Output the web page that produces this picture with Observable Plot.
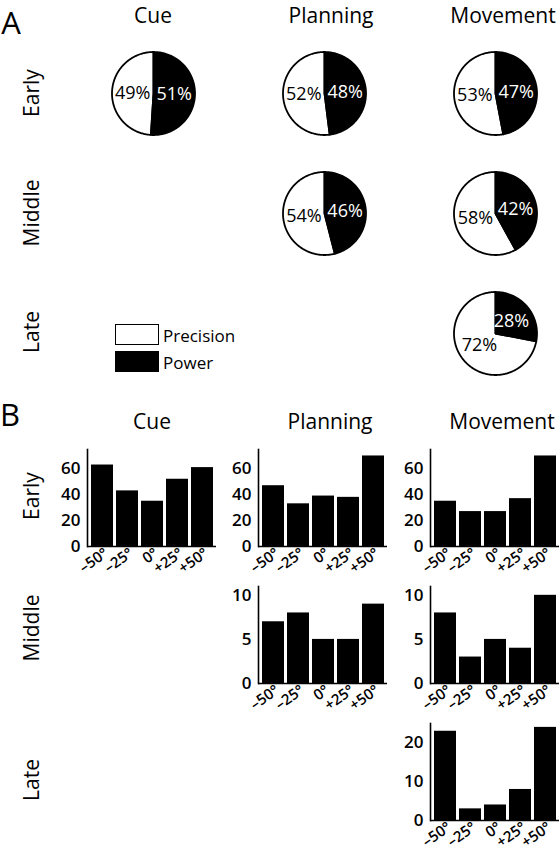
<!DOCTYPE html>
<html><head><meta charset="utf-8">
<script src="https://cdn.jsdelivr.net/npm/d3@7"></script>
<script src="https://cdn.jsdelivr.net/npm/@observablehq/plot@0.6"></script>
<style>
body{margin:0;background:#fff;}
#fig{position:relative;width:560px;height:852px;font-family:"Open Sans",sans-serif;font-weight:400;color:#000;overflow:hidden;background:#fff}
#fig svg{position:absolute;overflow:visible}
.t{position:absolute;white-space:nowrap;line-height:1;transform:translate(-50%,-50%)}
.r{transform:translate(-50%,-50%) rotate(-90deg)}
.box{position:absolute;box-sizing:border-box;border:1.5px solid #000}
</style></head><body><div id="fig"></div>
<script>
// ---------- data ----------
const periods = ["Cue", "Planning", "Movement"];
const phases = ["Early", "Middle", "Late"];
// Panel A: % of neurons, rows = Early, Middle, Late (null = no pie)
const powerCue = [51, null, null];
const precisionCue = [49, null, null];
const powerPlanning = [48, 46, null];
const precisionPlanning = [52, 54, null];
const powerMovement = [47, 42, 28];
const precisionMovement = [53, 58, 72];
const legendLabels = ["Precision", "Power"];
// Panel B: counts per target direction
const targets = ["\u201350\u00b0", "\u201325\u00b0", "0\u00b0", "+25\u00b0", "+50\u00b0"];
const countsCueEarly = [63, 43, 35, 52, 61];
const countsPlanningEarly = [47, 33, 39, 38, 70];
const countsPlanningMiddle = [7, 8, 5, 5, 9];
const countsMovementEarly = [35, 27, 27, 37, 70];
const countsMovementMiddle = [8, 3, 5, 4, 10];
const countsMovementLate = [23, 3, 4, 8, 24];
const yTicksEarly = [0, 20, 40, 60];
const yTicksMiddle = [0, 5, 10];
const yTicksLate = [0, 10, 20];

// ---------- helpers ----------
const FONT = '"Open Sans", sans-serif';
const fig = document.getElementById("fig");
function addText(txt, x, y, size, rotate, extra) {
  const d = document.createElement("div");
  d.className = "t" + (rotate ? " r" : "");
  d.textContent = txt;
  d.style.left = x + "px"; d.style.top = y + "px"; d.style.fontSize = size + "px";
  if (extra) Object.assign(d.style, extra);
  fig.appendChild(d);
}
function place(svg, left, top) {
  svg.style.left = left + "px"; svg.style.top = top + "px";
  fig.appendChild(svg);
}

// ---------- Panel A: pies ----------
const powerBy = [powerCue, powerPlanning, powerMovement];
const precisionBy = [precisionCue, precisionPlanning, precisionMovement];
const slicePts = [], sliceLabels = [];
periods.forEach((period, ci) => {
  phases.forEach((phase, ri) => {
    const pw = powerBy[ci][ri], pr = precisionBy[ci][ri];
    if (pw == null) return;
    const slices = [
      {type: "Precision", value: pr, a0: pw / 100 * 2 * Math.PI, a1: 2 * Math.PI},
      {type: "Power", value: pw, a0: 0, a1: pw / 100 * 2 * Math.PI}
    ];
    slices.forEach(s => {
      const id = period + phase + s.type;
      slicePts.push({id, type: s.type, period, phase, x: 0, y: 0});
      const n = Math.max(2, Math.ceil((s.a1 - s.a0) / (Math.PI / 180)));
      for (let k = 0; k <= n; k++) {
        const a = s.a0 + (s.a1 - s.a0) * k / n;
        slicePts.push({id, type: s.type, period, phase, x: Math.sin(a), y: Math.cos(a)});
      }
      const m = (s.a0 + s.a1) / 2;
      sliceLabels.push({type: s.type, period, phase, x: 0.5 * Math.sin(m), y: 0.45 * Math.cos(m), label: s.value + "%"});
    });
  });
});
const D = 1.2048;
const pieChart = Plot.plot({
  width: 560, height: 400,
  marginLeft: 103, marginRight: 14.3, marginTop: 43, marginBottom: 17,
  fx: {domain: periods, paddingInner: 0.4162, paddingOuter: 0, axis: null},
  fy: {domain: phases, paddingInner: 0.16667, paddingOuter: 0, axis: null},
  x: {domain: [-D, D], axis: null},
  y: {domain: [-D, D], axis: null},
  style: {fontFamily: FONT, background: "transparent"},
  marks: [
    Plot.line(slicePts.filter(d => d.type === "Precision"), {x: "x", y: "y", z: "id", fx: "period", fy: "phase", fill: "white", stroke: "black", strokeWidth: 1.8, curve: "linear-closed"}),
    Plot.line(slicePts.filter(d => d.type === "Power"), {x: "x", y: "y", z: "id", fx: "period", fy: "phase", fill: "black", stroke: "black", strokeWidth: 1.8, curve: "linear-closed"}),
    Plot.text(sliceLabels.filter(d => d.type === "Precision"), {x: "x", y: "y", text: "label", fx: "period", fy: "phase", fill: "black", fontSize: 18}),
    Plot.text(sliceLabels.filter(d => d.type === "Power"), {x: "x", y: "y", text: "label", fx: "period", fy: "phase", fill: "white", fontSize: 18})
  ]
});
place(pieChart, 0, 0);

// Panel A text
const titleX = [153, 331, 503];
addText("A", 11, 21.5, 31);
periods.forEach((p, i) => addText(p, titleX[i], 14.5, 21));
const rowYA = [93, 213, 332];
phases.forEach((p, i) => addText(p, 31, rowYA[i], 21, true));
// legend
const legFill = ["#fff", "#000"];
const legTop = [324, 351];
legendLabels.forEach((l, i) => {
  const b = document.createElement("div");
  b.className = "box";
  Object.assign(b.style, {left: "115px", top: legTop[i] + "px", width: "44px", height: "21px", background: legFill[i]});
  fig.appendChild(b);
  addText(l, 163, legTop[i] + 11, 17, false, {transform: "translate(0,-50%)"});
});

// ---------- Panel B: bars ----------
function bars(values, yMax, ticks, axisLeft, axisTop, plotH) {
  const mL = 30, mT = 5, mB = 40, mR = 1, w = 129;
  const chart = Plot.plot({
    width: mL + w + mR, height: mT + plotH + mB,
    marginLeft: mL, marginRight: mR, marginTop: mT, marginBottom: mB,
    x: {type: "band", domain: targets, paddingInner: 0.14, paddingOuter: 0.07, label: null},
    y: {domain: [0, yMax], label: null},
    style: {fontFamily: FONT, fontSize: "16px", fontWeight: 600, background: "transparent"},
    marks: [
      Plot.barY(targets.map((t, i) => ({t, v: values[i]})), {x: "t", y: "v", fill: "black"}),
      Plot.axisX({tickSize: 0, tickRotate: -35, tickPadding: 5, dx: 4, fontSize: 15, fontWeight: 600, label: null}),
      Plot.axisY({ticks, tickSize: 0, tickPadding: 7, fontSize: 17, fontWeight: 600, label: null}),
      Plot.ruleY([0], {stroke: "black", strokeWidth: 1.6}),
      Plot.frame({anchor: "left", stroke: "black", strokeWidth: 1.6})
    ]
  });
  place(chart, axisLeft - mL, axisTop - mT);
}
const colX = [87.3, 258.3, 430];
const rowTop = [449, 586, 722.7];
const plotH = 97;
bars(countsCueEarly, 75, yTicksEarly, colX[0], rowTop[0], plotH);
bars(countsPlanningEarly, 75, yTicksEarly, colX[1], rowTop[0], plotH);
bars(countsMovementEarly, 75, yTicksEarly, colX[2], rowTop[0], plotH);
bars(countsPlanningMiddle, 11, yTicksMiddle, colX[1], rowTop[1], plotH);
bars(countsMovementMiddle, 11, yTicksMiddle, colX[2], rowTop[1], plotH);
bars(countsMovementLate, 25, yTicksLate, colX[2], rowTop[2], plotH);

// Panel B text
addText("B", 10, 414, 31);
periods.forEach((p, i) => addText(p, titleX[i] - 1, 421, 21));
const rowYB = [496, 628, 780];
phases.forEach((p, i) => addText(p, 31, rowYB[i], 21, true));
</script></body></html>
